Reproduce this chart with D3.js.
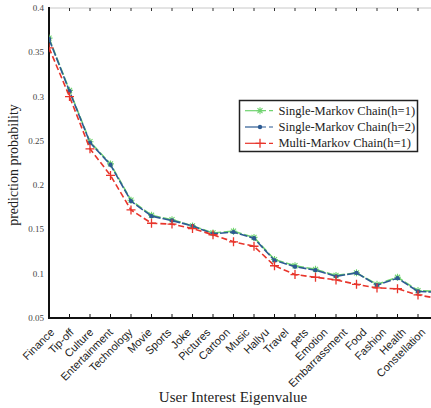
<!DOCTYPE html>
<html>
<head>
<meta charset="utf-8">
<script src="https://cdn.jsdelivr.net/npm/d3@7/dist/d3.min.js"></script>
<style>
  html, body { margin: 0; padding: 0; background: #fff; }
  svg { display: block; }
</style>
</head>
<body>
<svg id="chart" width="431" height="408"></svg>
<script>
// Interest categories along the x axis
const categories = ["Finance", "Tip-off", "Culture", "Entertainment", "Technology", "Movie",
  "Sports", "Joke", "Pictures", "Cartoon", "Music", "Hallyu", "Travel", "pets", "Emotion",
  "Embarrassment", "Food", "Fashion", "Health", "Constellation"];

// Prediction probability per category for each model
const singleH1 = [0.366, 0.307, 0.249, 0.224, 0.183, 0.166, 0.161, 0.154, 0.146, 0.148, 0.141,
  0.116, 0.109, 0.105, 0.098, 0.101, 0.088, 0.096, 0.081, 0.080];
const singleH2 = [0.365, 0.306, 0.248, 0.223, 0.182, 0.165, 0.160, 0.154, 0.145, 0.147, 0.140,
  0.115, 0.108, 0.104, 0.097, 0.101, 0.087, 0.095, 0.080, 0.079];
const multiH1 = [0.355, 0.300, 0.241, 0.211, 0.172, 0.157, 0.156, 0.151, 0.144, 0.136, 0.131,
  0.109, 0.099, 0.096, 0.093, 0.088, 0.084, 0.083, 0.076, 0.072];

const yTicks = [0.05, 0.1, 0.15, 0.2, 0.25, 0.3, 0.35, 0.4];
const seriesNames = ["Single-Markov Chain(h=1)", "Single-Markov Chain(h=2)", "Multi-Markov Chain(h=1)"];

const svg = d3.select("#chart");
const mLeft = 49, mTop = 8, mBottom = 318, mRight = 431;

const x = d3.scaleLinear().domain([0, categories.length - 1]).range([mLeft, 438.5]);
const y = d3.scaleLinear().domain([0.05, 0.4]).range([mBottom, mTop]);
const labelX = d3.scalePoint().domain(categories).range([55, 426]);

// Frame: light top border, heavy left and bottom axes
svg.append("line").attr("x1", mLeft).attr("x2", mRight).attr("y1", mTop).attr("y2", mTop)
  .attr("stroke", "#c8c8c8").attr("stroke-width", 1);

const idx = d3.range(categories.length);
// Inward tick marks on bottom and top
svg.append("g").selectAll("line").data(idx).join("line")
  .attr("x1", d => x(d)).attr("x2", d => x(d))
  .attr("y1", mBottom).attr("y2", mBottom - 4)
  .attr("stroke", "#111").attr("stroke-width", 1);
svg.append("g").selectAll("line").data(idx).join("line")
  .attr("x1", d => x(d)).attr("x2", d => x(d))
  .attr("y1", mTop).attr("y2", mTop + 3)
  .attr("stroke", "#333").attr("stroke-width", 1);

svg.append("line").attr("x1", mLeft).attr("x2", mLeft).attr("y1", mTop - 1).attr("y2", mBottom + 1)
  .attr("stroke", "#111").attr("stroke-width", 2);
svg.append("line").attr("x1", mLeft - 1).attr("x2", mRight).attr("y1", mBottom).attr("y2", mBottom)
  .attr("stroke", "#111").attr("stroke-width", 2);

// Y tick labels
svg.append("g").selectAll("text").data(yTicks).join("text")
  .attr("x", mLeft - 5).attr("y", d => y(d))
  .attr("text-anchor", "end").attr("dominant-baseline", "central")
  .attr("font-family", "Liberation Serif").attr("font-size", 9)
  .attr("fill", "#444")
  .text(d => String(+d.toFixed(2)));

// Rotated category labels
svg.append("g").selectAll("text").data(categories).join("text")
  .attr("transform", d => `translate(${labelX(d)},333) rotate(-45)`)
  .attr("text-anchor", "end")
  .attr("font-family", "Liberation Sans").attr("font-size", 11)
  .attr("fill", "#222")
  .text(d => d);

// Axis titles
svg.append("text").attr("x", 233).attr("y", 402).attr("text-anchor", "middle")
  .attr("font-family", "Liberation Serif").attr("font-size", 15).attr("fill", "#222")
  .text("User Interest Eigenvalue");
svg.append("text").attr("transform", "translate(18,165) rotate(-90)").attr("text-anchor", "middle")
  .attr("font-family", "Liberation Serif").attr("font-size", 14).attr("fill", "#222")
  .text("prediction probability");

svg.append("clipPath").attr("id", "plotclip")
  .append("rect").attr("x", mLeft).attr("y", 0).attr("width", mRight - mLeft).attr("height", mBottom);
const plot = svg.append("g").attr("clip-path", "url(#plotclip)");

const line = d3.line().x((d, i) => x(i)).y(d => y(d));

const series = [
  { name: seriesNames[0], values: singleH1, color: "#6fd36f", dash: "8,2.5", marker: "star" },
  { name: seriesNames[1], values: singleH2, color: "#2d5b93", dash: "8,2", marker: "dot" },
  { name: seriesNames[2], values: multiH1, color: "#e8352b", dash: "6,3", marker: "plus" }
];

function drawMarker(g, kind, cx, cy, color) {
  if (kind === "dot") {
    g.append("circle").attr("cx", cx).attr("cy", cy).attr("r", 2.2).attr("fill", color);
  } else if (kind === "plus") {
    g.append("path").attr("d", `M${cx - 4.5},${cy}H${cx + 4.5}M${cx},${cy - 4.5}V${cy + 4.5}`)
      .attr("stroke", color).attr("stroke-width", 1.3).attr("fill", "none");
  } else {
    const r = 3.5, q = r * 0.72;
    g.append("path")
      .attr("d", `M${cx - r},${cy}H${cx + r}M${cx},${cy - r}V${cy + r}M${cx - q},${cy - q}L${cx + q},${cy + q}M${cx - q},${cy + q}L${cx + q},${cy - q}`)
      .attr("stroke", color).attr("stroke-width", 1.1).attr("fill", "none");
  }
}

series.forEach(s => {
  plot.append("path").datum(s.values).attr("d", line)
    .attr("fill", "none").attr("stroke", s.color).attr("stroke-width", 1.6)
    .attr("stroke-dasharray", s.dash);
  const mg = plot.append("g");
  s.values.forEach((v, i) => drawMarker(mg, s.marker, x(i), y(v), s.color));
});

// Legend
const lg = svg.append("g");
lg.append("rect").attr("x", 239.5).attr("y", 100.5).attr("width", 178).attr("height", 51)
  .attr("fill", "#fff").attr("stroke", "#222").attr("stroke-width", 1.5);
const legendY = d3.scalePoint().domain(seriesNames).range([110.7, 143.3]);
series.forEach(s => {
  const ly = legendY(s.name);
  lg.append("line").attr("x1", 245).attr("x2", 262).attr("y1", ly).attr("y2", ly)
    .attr("stroke", s.color).attr("stroke-width", 1.2);
  lg.append("line").attr("x1", 262).attr("x2", 276).attr("y1", ly).attr("y2", ly)
    .attr("stroke", s.color).attr("stroke-width", 1.2).attr("stroke-dasharray", "4,3");
  drawMarker(lg, s.marker, 260, ly, s.color);
  lg.append("text").attr("x", 278.5).attr("y", ly).attr("dominant-baseline", "central")
    .attr("font-family", "Liberation Serif").attr("font-size", 12.5).attr("fill", "#222")
    .text(s.name);
});
</script>
</body>
</html>
